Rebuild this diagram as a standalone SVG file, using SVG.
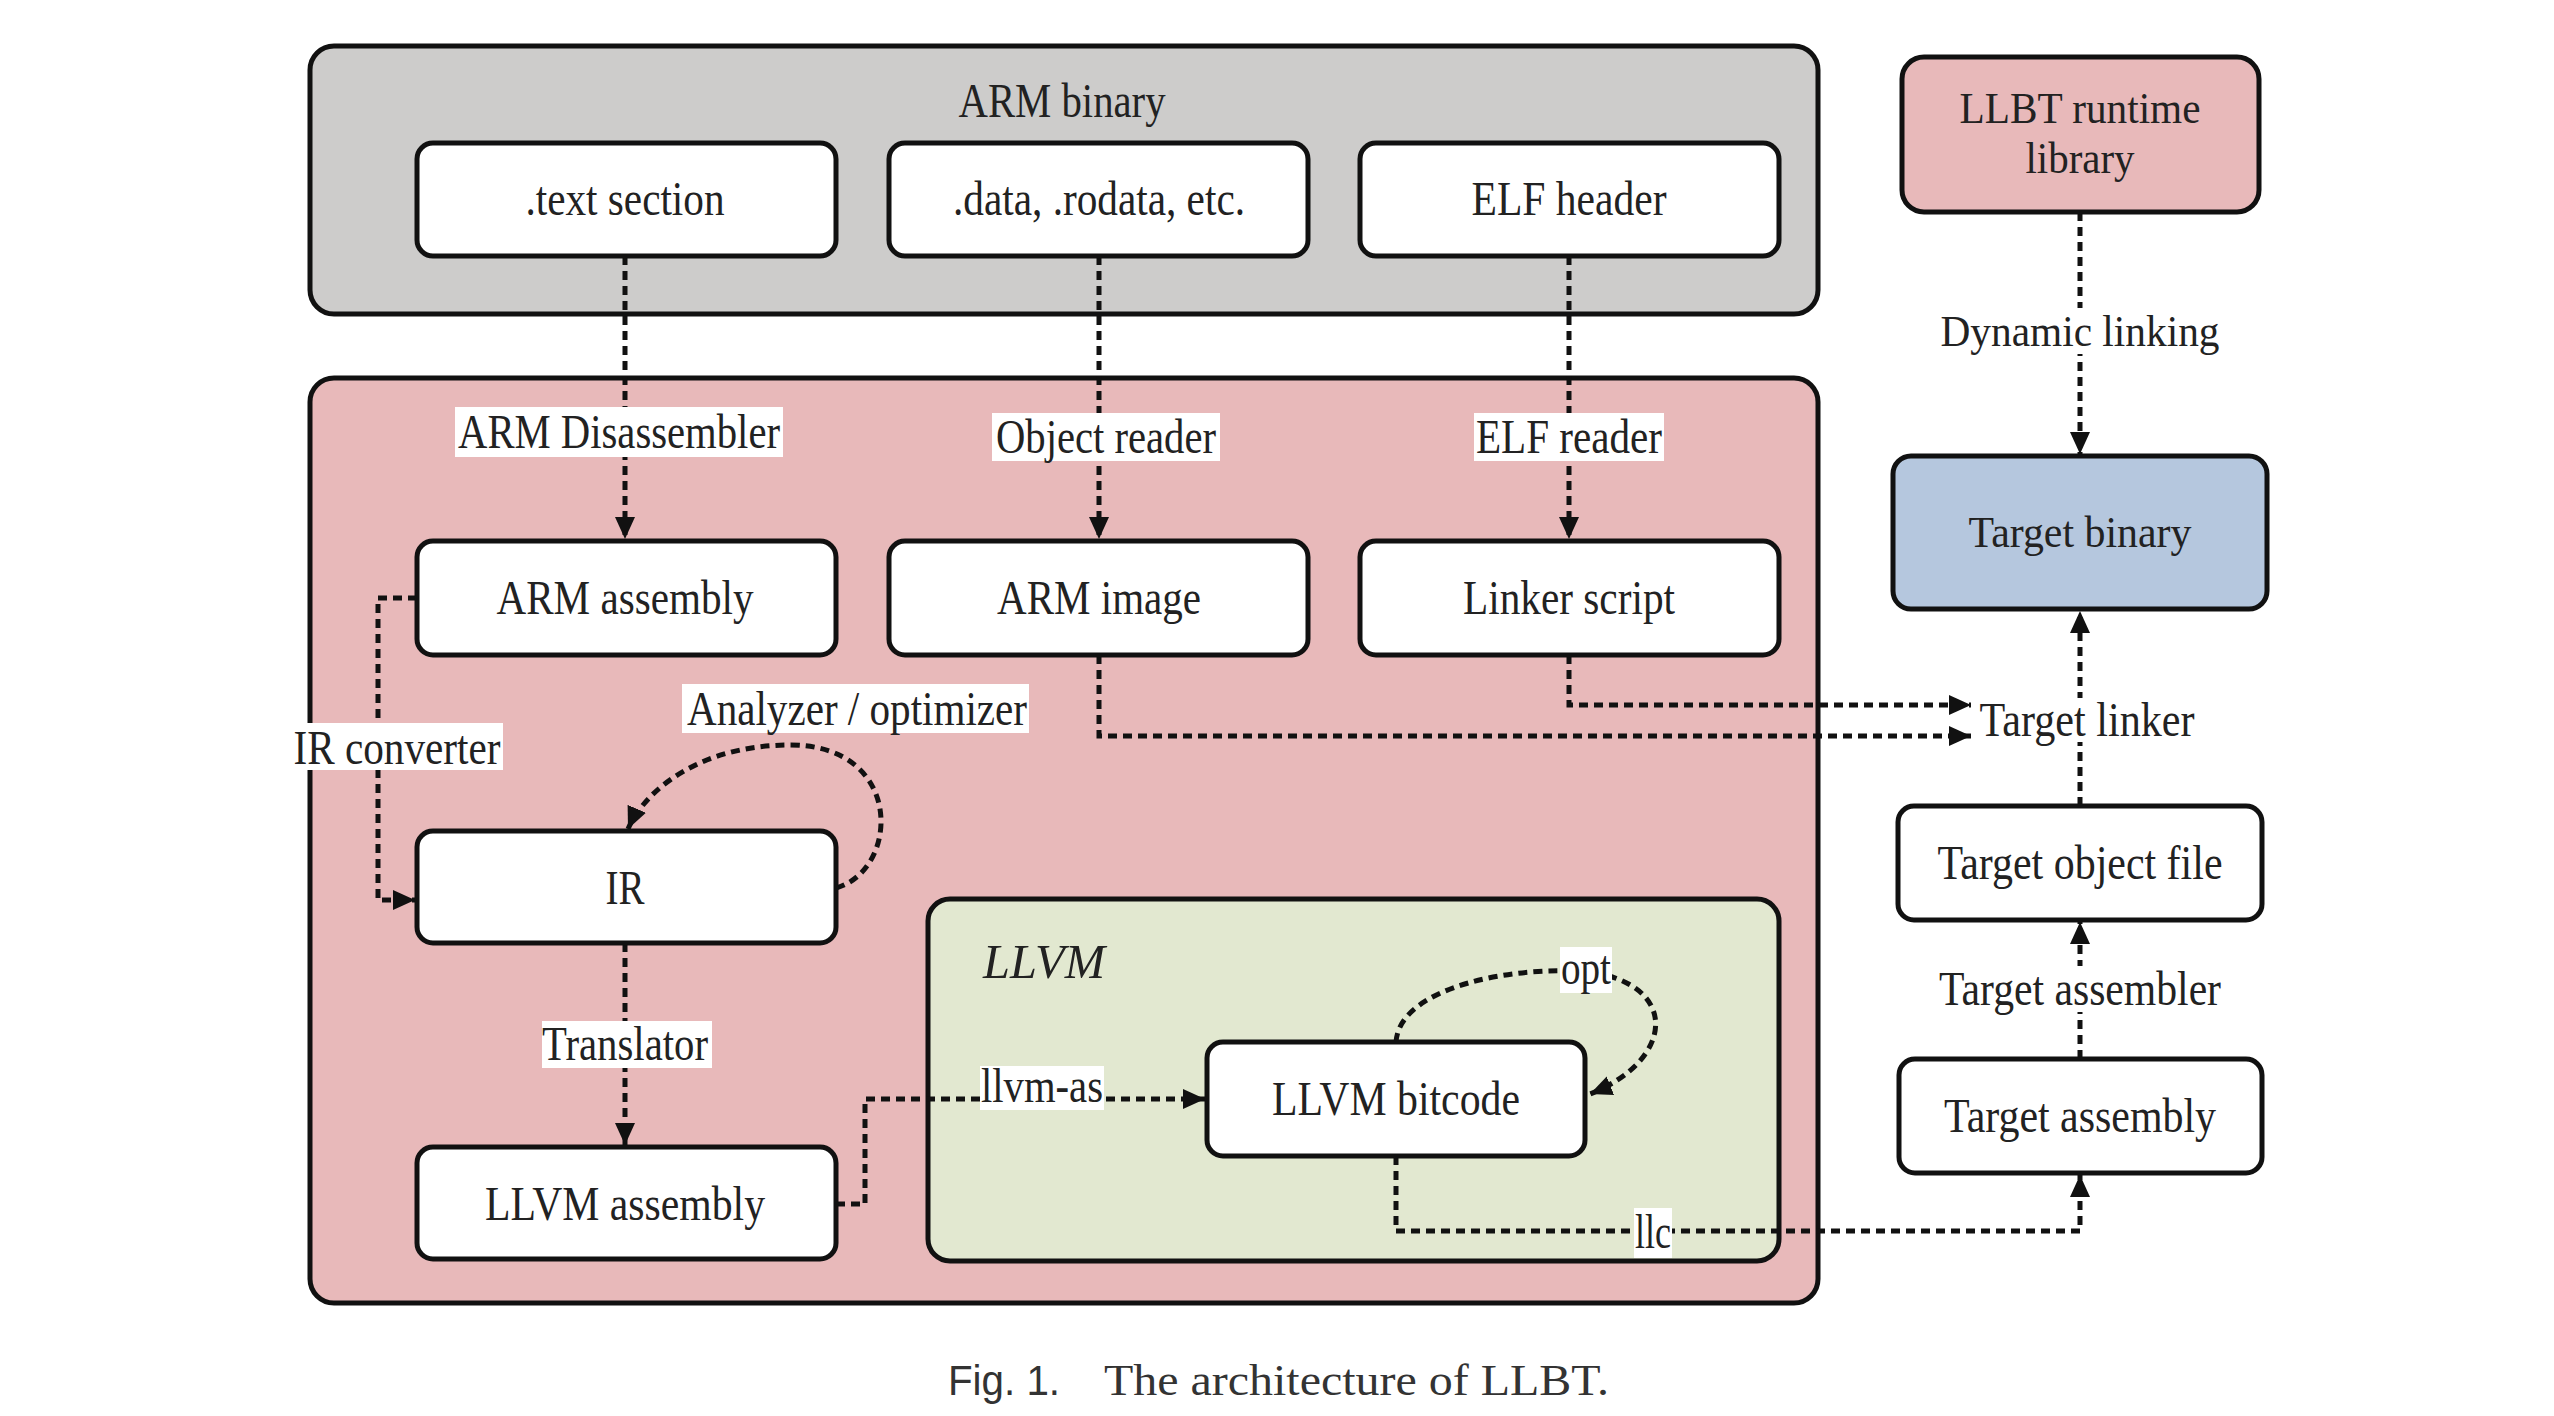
<svg xmlns="http://www.w3.org/2000/svg" width="2554" height="1416" viewBox="0 0 2554 1416">
<style>
  .cont { stroke: #111; stroke-width: 5; }
  .node { fill: #fff; stroke: #111; stroke-width: 5; }
  .t { font-family: "Liberation Serif", "Times New Roman", serif; font-size: 48px; fill: #222; text-anchor: middle; }
  .n { font-size: 44px; }
  .conn { fill: none; stroke: #111; stroke-width: 5; stroke-dasharray: 9 6; }
  .lbg { fill: #fff; }
</style>
<defs>
  <marker id="arr" markerUnits="userSpaceOnUse" markerWidth="24" markerHeight="22" refX="22" refY="11" orient="auto">
    <path d="M0,1 L22,11 L0,21 Z" fill="#111"/>
  </marker>
</defs>
<rect width="2554" height="1416" fill="#fff"/>

<g id="arm-binary">
  <rect class="cont" x="310" y="46" width="1508" height="268" rx="24" fill="#cdcccb"/>
  <text class="t" x="1062" y="117" textLength="207" lengthAdjust="spacingAndGlyphs">ARM binary</text>
</g>
<g id="llbt">
  <rect class="cont" x="310" y="378" width="1508" height="925" rx="24" fill="#e8b9ba"/>
</g>
<g id="llvm">
  <rect class="cont" x="928" y="899" width="851" height="362" rx="22" fill="#e2e8d0"/>
  <text class="t" x="1044" y="978" font-style="italic" textLength="122" lengthAdjust="spacingAndGlyphs">LLVM</text>
</g>

<g id="connectors">
  <path class="conn" d="M625,256 L625,539" marker-end="url(#arr)"/>
  <path class="conn" d="M1099,256 L1099,539" marker-end="url(#arr)"/>
  <path class="conn" d="M1569,256 L1569,539" marker-end="url(#arr)"/>
  <path class="conn" d="M417,598 L378,598 L378,900 L415,900" marker-end="url(#arr)"/>
  <path class="conn" d="M836,888 C900,870 905,745 790,745 C700,745 645,790 628,829" marker-end="url(#arr)"/>
  <path class="conn" d="M625,943 L625,1145" marker-end="url(#arr)"/>
  <path class="conn" d="M836,1204 L865,1204 L865,1099 L1205,1099" marker-end="url(#arr)"/>
  <path class="conn" d="M1396,1042 C1400,985 1520,965 1590,972 C1680,985 1675,1060 1590,1094" marker-end="url(#arr)"/>
  <path class="conn" d="M1396,1156 L1396,1231 L2080,1231 L2080,1175" marker-end="url(#arr)"/>
  <path class="conn" d="M2080,1059 L2080,922" marker-end="url(#arr)"/>
  <path class="conn" d="M2080,806 L2080,611" marker-end="url(#arr)"/>
  <path class="conn" d="M1569,655 L1569,705 L1971,705" marker-end="url(#arr)"/>
  <path class="conn" d="M1099,655 L1099,736 L1971,736" marker-end="url(#arr)"/>
  <path class="conn" d="M2080,212 L2080,454" marker-end="url(#arr)"/>

  <rect class="lbg" x="455" y="407" width="328" height="50"/>
  <text class="t" x="619" y="448" textLength="322" lengthAdjust="spacingAndGlyphs">ARM Disassembler</text>
  <rect class="lbg" x="992" y="413" width="228" height="48"/>
  <text class="t" x="1106" y="453" textLength="220" lengthAdjust="spacingAndGlyphs">Object reader</text>
  <rect class="lbg" x="1474" y="413" width="190" height="48"/>
  <text class="t" x="1569" y="453" textLength="186" lengthAdjust="spacingAndGlyphs">ELF reader</text>
  <rect class="lbg" x="682" y="684" width="347" height="49"/>
  <text class="t" x="857" y="725" textLength="340" lengthAdjust="spacingAndGlyphs">Analyzer / optimizer</text>
  <rect class="lbg" x="292" y="723" width="211" height="47"/>
  <text class="t" x="397" y="764" textLength="207" lengthAdjust="spacingAndGlyphs">IR converter</text>
  <rect class="lbg" x="542" y="1021" width="170" height="47"/>
  <text class="t" x="625" y="1060" textLength="166" lengthAdjust="spacingAndGlyphs">Translator</text>
  <rect class="lbg" x="980" y="1066" width="124" height="44"/>
  <text class="t" x="1042" y="1102" textLength="122" lengthAdjust="spacingAndGlyphs">llvm-as</text>
  <rect class="lbg" x="1560" y="947" width="52" height="46"/>
  <text class="t" x="1586" y="984" textLength="50" lengthAdjust="spacingAndGlyphs">opt</text>
  <rect class="lbg" x="1634" y="1208" width="38" height="50"/>
  <text class="t" x="1653" y="1248" textLength="36" lengthAdjust="spacingAndGlyphs">llc</text>
  <rect class="lbg" x="1937" y="308" width="286" height="46"/>
  <text class="t n" x="2080" y="346" textLength="279" lengthAdjust="spacingAndGlyphs">Dynamic linking</text>
  <rect class="lbg" x="1978" y="698" width="218" height="44"/>
  <text class="t" x="2087" y="736" textLength="215" lengthAdjust="spacingAndGlyphs">Target linker</text>
  <rect class="lbg" x="1937" y="966" width="286" height="46"/>
  <text class="t" x="2080" y="1005" textLength="282" lengthAdjust="spacingAndGlyphs">Target assembler</text>
</g>

<g id="text-section">
  <rect class="node" x="417" y="143" width="419" height="113" rx="16"/>
  <text class="t" x="625" y="215" textLength="199" lengthAdjust="spacingAndGlyphs">.text section</text>
</g>
<g id="data-section">
  <rect class="node" x="889" y="143" width="419" height="113" rx="16"/>
  <text class="t" x="1099" y="215" textLength="292" lengthAdjust="spacingAndGlyphs">.data, .rodata, etc.</text>
</g>
<g id="elf-header">
  <rect class="node" x="1360" y="143" width="419" height="113" rx="16"/>
  <text class="t" x="1569" y="215" textLength="195" lengthAdjust="spacingAndGlyphs">ELF header</text>
</g>
<g id="arm-assembly">
  <rect class="node" x="417" y="541" width="419" height="114" rx="16"/>
  <text class="t" x="625" y="614" textLength="257" lengthAdjust="spacingAndGlyphs">ARM assembly</text>
</g>
<g id="arm-image">
  <rect class="node" x="889" y="541" width="419" height="114" rx="16"/>
  <text class="t" x="1099" y="614" textLength="204" lengthAdjust="spacingAndGlyphs">ARM image</text>
</g>
<g id="linker-script">
  <rect class="node" x="1360" y="541" width="419" height="114" rx="16"/>
  <text class="t" x="1569" y="614" textLength="212" lengthAdjust="spacingAndGlyphs">Linker script</text>
</g>
<g id="ir">
  <rect class="node" x="417" y="831" width="419" height="112" rx="16"/>
  <text class="t" x="625" y="904" textLength="39" lengthAdjust="spacingAndGlyphs">IR</text>
</g>
<g id="llvm-assembly">
  <rect class="node" x="417" y="1147" width="419" height="112" rx="16"/>
  <text class="t" x="625" y="1220" textLength="280" lengthAdjust="spacingAndGlyphs">LLVM assembly</text>
</g>
<g id="llvm-bitcode">
  <rect class="node" x="1207" y="1042" width="378" height="114" rx="16"/>
  <text class="t" x="1396" y="1115" textLength="248" lengthAdjust="spacingAndGlyphs">LLVM bitcode</text>
</g>
<g id="llbt-runtime">
  <rect class="cont" x="1902" y="57" width="357" height="155" rx="22" fill="#e8b9ba"/>
  <text class="t n" x="2080" y="123" textLength="241" lengthAdjust="spacingAndGlyphs">LLBT runtime</text>
  <text class="t n" x="2080" y="173" textLength="109" lengthAdjust="spacingAndGlyphs">library</text>
</g>
<g id="target-binary">
  <rect class="cont" x="1893" y="456" width="374" height="153" rx="18" fill="#b5c7de"/>
  <text class="t n" x="2080" y="547" textLength="223" lengthAdjust="spacingAndGlyphs">Target binary</text>
</g>
<g id="target-object">
  <rect class="node" x="1898" y="806" width="364" height="114" rx="16"/>
  <text class="t" x="2080" y="879" textLength="285" lengthAdjust="spacingAndGlyphs">Target object file</text>
</g>
<g id="target-assembly">
  <rect class="node" x="1899" y="1059" width="363" height="114" rx="16"/>
  <text class="t" x="2080" y="1132" textLength="272" lengthAdjust="spacingAndGlyphs">Target assembly</text>
</g>

<g id="caption">
  <text x="948" y="1395" font-family="Liberation Sans, Arial, sans-serif" font-size="42" fill="#333" textLength="112" lengthAdjust="spacingAndGlyphs">Fig. 1.</text>
  <text x="1104" y="1395" font-family="Liberation Serif, Times New Roman, serif" font-size="44" fill="#333" textLength="505" lengthAdjust="spacingAndGlyphs">The architecture of LLBT.</text>
</g>
</svg>
